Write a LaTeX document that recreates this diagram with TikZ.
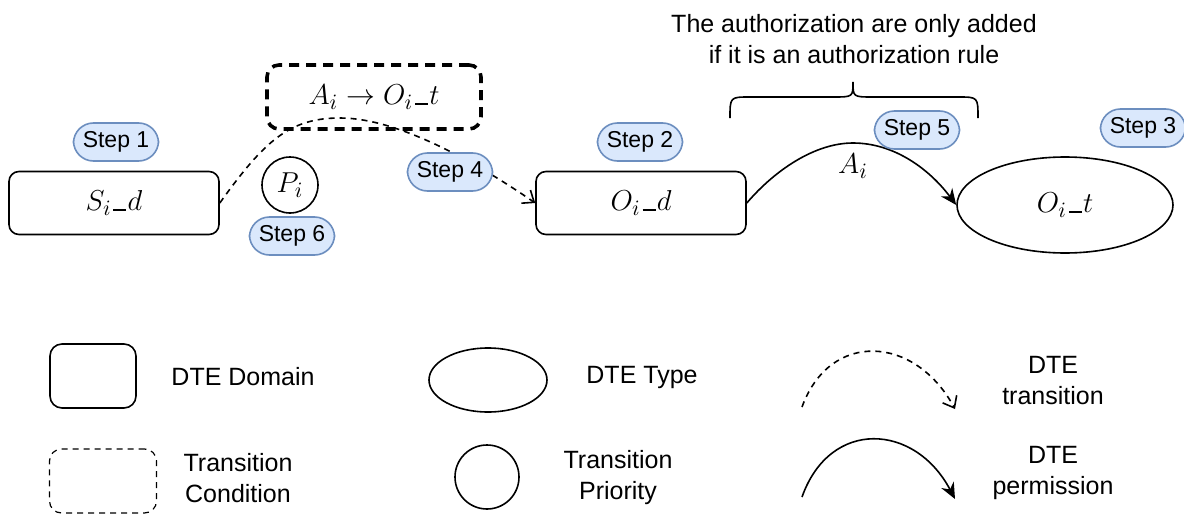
\documentclass[tikz,border=0pt]{standalone}
\usepackage{amsmath}
\usepackage{amssymb}
\usepackage{fontspec}
\setmainfont{Liberation Sans}
\usepackage{xcolor}
\usetikzlibrary{shapes, arrows.meta, positioning}

\definecolor{stepfill}{HTML}{DAE8FC}
\definecolor{stepline}{HTML}{6C8EBF}
\newcommand{\usc}{\kern.06em\rule{0.42em}{0.9pt}\kern.04em}

\begin{document}
\begin{tikzpicture}[x=0.5pt, y=-0.5pt,
        every node/.style={font=\fontsize{12.5}{15.5}\selectfont},
        mathtext/.style={font=\fontsize{15.5}{18}\selectfont},
        dtedomain/.style={draw, line width=0.8pt, rounded corners=5pt, minimum width=105pt, minimum height=31.5pt, mathtext},
        dtetype/.style={ellipse, draw, line width=0.8pt, minimum width=108pt, minimum height=48pt, mathtext},
        condbox/.style={draw, line width=1.8pt, dash pattern=on 5pt off 3.5pt, rounded corners=6pt, minimum width=107pt, minimum height=32pt, mathtext},
        prio/.style={circle, draw, line width=0.8pt, minimum size=28pt, inner sep=0pt, mathtext},
        stepbox/.style={draw=stepline, fill=stepfill, line width=0.8pt, rounded corners=10pt, minimum width=42.5pt, minimum height=19pt, inner sep=0pt, font=\fontsize{11.5}{13}\selectfont},
        trans/.style={line width=0.8pt, dash pattern=on 3pt off 2.5pt, -{Straight Barb[length=5pt, width=8pt]}},
        perm/.style={line width=0.8pt, -{Stealth[length=8pt, width=7pt]}}]
        \useasboundingbox (0, 0) rectangle (1184, 514);

        % main diagram
        \node[dtedomain] (sd) at (114, 203) {$S_i\usc d$};
        \node[dtedomain] (od) at (641, 203) {$O_i\usc d$};
        \node[dtetype] (ot) at (1065, 205) {$O_i\usc t$};
        \node[condbox] (cond) at (374, 97) {$A_i \rightarrow O_i\usc t$};
        \node[prio] (pi) at (290, 185) {$P_i$};

        \draw[trans] (sd.east) .. controls (265, 140) and (290, 118) .. (340, 118)
            .. controls (400, 118) and (480, 165) .. (od.west);
        \draw[perm] (od.east) .. controls (775, 170) and (815, 143) .. (853, 143)
            .. controls (895, 143) and (930, 170) .. (ot.west);
        \node[mathtext] (ai) at (853, 166) {$A_i$};

        \node[stepbox] (s1) at (116, 142) {Step 1};
        \node[stepbox] (s2) at (640, 142) {Step 2};
        \node[stepbox] (s3) at (1143, 128) {Step 3};
        \node[stepbox] (s4) at (450, 172) {Step 4};
        \node[stepbox] (s5) at (917, 130) {Step 5};
        \node[stepbox] (s6) at (292, 236) {Step 6};

        % brace and note
        \draw[line width=0.8pt] (730, 118) .. controls (730, 97) .. (750, 97) -- (833, 97)
            .. controls (853, 97) .. (853, 82) .. controls (853, 97) .. (873, 97) -- (958, 97)
            .. controls (978, 97) .. (978, 118);
        \node[align=center] (note) at (854, 39) {The authorization are only added\\if it is an authorization rule};

        % legend
        \node[draw, line width=0.8pt, rounded corners=6pt, minimum width=43pt, minimum height=32pt] (ldom) at (93, 376) {};
        \node (tdom) at (243, 377) {DTE Domain};
        \node[dtetype, minimum width=59pt, minimum height=32pt] (ltype) at (488, 380) {};
        \node (ttype) at (642, 377) {DTE Type};
        \node[draw, line width=0.6pt, dash pattern=on 3pt off 2.5pt, rounded corners=6pt, minimum width=53.5pt, minimum height=32pt] (lcond) at (103, 481) {};
        \node[align=center] (tcond) at (238, 478) {Transition\\Condition};
        \node[prio, minimum size=32pt] (lprio) at (487, 477) {};
        \node[align=center] (tprio) at (618, 478) {Transition\\Priority};

        \coordinate (lt1) at (802, 407);
        \coordinate (lt2) at (955, 409);
        \coordinate (lp1) at (802, 497);
        \coordinate (lp2) at (955, 499);
        \draw[trans] (lt1) .. controls (830, 330) and (915, 335) .. (lt2);
        \draw[perm] (lp1) .. controls (830, 418) and (915, 423) .. (lp2);
        \node[align=center] (ttrans) at (1053, 381) {DTE\\transition};
        \node[align=center] (tperm) at (1053, 473) {DTE\\permission};
    \end{tikzpicture}
\end{document}
